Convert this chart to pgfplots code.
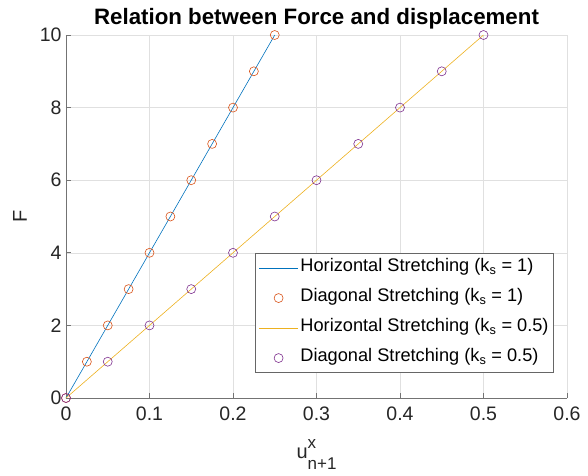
\documentclass[border=0pt]{standalone}
\usepackage{amsmath}
\usepackage{fontspec}
\setmainfont{Liberation Sans}
\usepackage{pgfplots}
\pgfplotsset{compat=1.18}
\definecolor{mblue}{rgb}{0,0.447,0.741}
\definecolor{morange}{rgb}{0.851,0.325,0.098}
\definecolor{myellow}{rgb}{0.929,0.694,0.125}
\definecolor{mpurple}{rgb}{0.494,0.184,0.556}
\definecolor{axgray}{rgb}{0.15,0.15,0.15}
\pgfplotsset{
  lineleg/.style={legend image code/.code={\draw[line width=0.7pt, color=#1] (0pt,0pt) -- (39pt,0pt);}},
  markleg/.style={legend image code/.code={\draw[line width=0.6pt, color=#1] (19.5pt,0pt) circle[radius=4.5pt];}},
}
\begin{document}
\begin{tikzpicture}
\path[use as bounding box] (-66pt,-77pt) rectangle (522pt,398pt);
\begin{axis}[
  at={(0pt,0pt)}, anchor=south west,
  scale only axis,
  width=501pt, height=363pt,
  xmin=0, xmax=0.6, ymin=0, ymax=10,
  xtick={0,0.1,0.2,0.3,0.4,0.5,0.6},
  ytick={0,2,4,6,8,10},
  axis x line*=bottom, axis y line*=left,
  axis line style={draw=black!55, line width=0.8pt},
  tick style={draw=black!55, line width=0.8pt},
  major tick length=5pt,
  tick align=inside,
  grid=major,
  grid style={draw=black!12, line width=0.6pt},
  ticklabel style={font=\fontsize{19.5}{22}\selectfont, text=axgray},
  /pgf/number format/assume math mode=true,
  /pgf/number format/fixed,
  xticklabel style={yshift=-5pt},
  yticklabel style={xshift=-1pt},
  title={\bfseries Relation between Force and displacement},
  title style={font=\fontsize{22.3}{25}\selectfont, at={(axis description cs:0.5,1)}, anchor=base, yshift=5pt},
  xlabel={u\rlap{\raisebox{10pt}{\fontsize{17}{17}\selectfont x}}\raisebox{-11pt}{\fontsize{17}{17}\selectfont n+1}},
  ylabel={F},
  label style={font=\fontsize{20}{23}\selectfont, text=axgray},
  xlabel style={at={(axis description cs:0.5,-0.168)}, anchor=base},
  ylabel style={at={(axis description cs:-0.092,0.5)}, anchor=center},
  legend style={at={(0.974,0.069)}, anchor=south east,
    font=\fontsize{18.2}{20}\selectfont, draw=black!60, line width=0.8pt,
    row sep=7pt, inner sep=3pt,
    nodes={inner sep=2pt, text height=13pt, text depth=6pt}},
  legend cell align=left,
  every axis plot/.append style={line width=0.6pt},
  clip=false,
]
\addplot[mblue, no marks, lineleg=mblue] coordinates {(0,0) (0.25,10)};
\addlegendentry{Horizontal Stretching (k$_{\text{s}}$ = 1)}
\addplot[only marks, mark=o, mark size=4.5pt, morange, mark options={line width=0.6pt}, markleg=morange] coordinates {
(0,0) (0.025,1) (0.05,2) (0.075,3) (0.1,4) (0.125,5) (0.15,6) (0.175,7) (0.2,8) (0.225,9) (0.25,10)};
\addlegendentry{Diagonal Stretching (k$_{\text{s}}$ = 1)}
\addplot[myellow, no marks, lineleg=myellow] coordinates {(0,0) (0.5,10)};
\addlegendentry{Horizontal Stretching (k$_{\text{s}}$ = 0.5)}
\addplot[only marks, mark=o, mark size=4.5pt, mpurple, mark options={line width=0.6pt}, markleg=mpurple] coordinates {
(0,0) (0.05,1) (0.1,2) (0.15,3) (0.2,4) (0.25,5) (0.3,6) (0.35,7) (0.4,8) (0.45,9) (0.5,10)};
\addlegendentry{Diagonal Stretching (k$_{\text{s}}$ = 0.5)}
\end{axis}
\end{tikzpicture}
\end{document}
